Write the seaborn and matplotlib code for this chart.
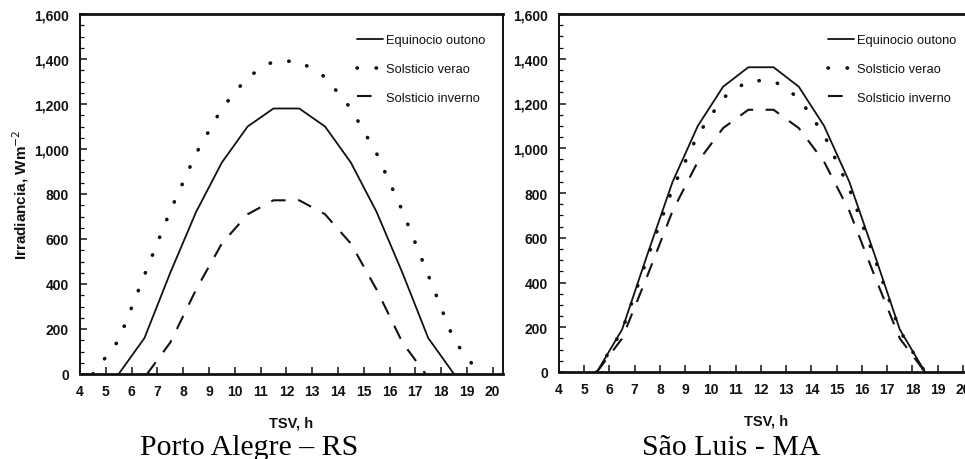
import numpy as np
import pandas as pd
import matplotlib
matplotlib.use("Agg")
import matplotlib.pyplot as plt
import matplotlib.ticker as mticker
import seaborn as sns

# ---------------- data ----------------
hours_half = [5.5, 6.5, 7.5, 8.5, 9.5, 10.5, 11.5, 12.5, 13.5, 14.5, 15.5, 16.5, 17.5, 18.5]

# Porto Alegre - RS
pa_eq_h = hours_half
pa_eq = [0, 160, 450, 720, 940, 1100, 1180, 1180, 1100, 940, 720, 450, 160, 0]
pa_ver_h = [4.5] + hours_half + [19.5]
pa_ver = [0, 150, 440, 725, 980, 1180, 1320, 1390, 1390, 1320, 1180, 980, 725, 440, 150, 0]
pa_inv_h = [6.6, 7.5, 8.5, 9.5, 10.5, 11.5, 12.5, 13.5, 14.5, 15.5, 16.5, 17.4]
pa_inv = [0, 140, 375, 580, 710, 772, 772, 710, 580, 375, 140, 0]

# Sao Luis - MA
sl_eq_h = hours_half
sl_eq = [0, 190, 525, 850, 1100, 1275, 1362, 1362, 1275, 1100, 850, 525, 190, 0]
sl_ver_h = hours_half
sl_ver = [0, 185, 510, 820, 1060, 1225, 1302, 1302, 1225, 1060, 820, 510, 185, 0]
sl_inv_h = hours_half
sl_inv = [0, 150, 430, 720, 940, 1090, 1172, 1172, 1090, 940, 720, 430, 150, 0]

series_names = ["Equinocio outono", "Solsticio verao", "Solsticio inverno"]
x_ticks = list(range(4, 21))
y_ticks = [0, 200, 400, 600, 800, 1000, 1200, 1400, 1600]
captions = ["Porto Alegre \u2013 RS", "S\u00e3o Luis - MA"]

# ---------------- style ----------------
sns.set_style("ticks")
plt.rcParams["font.family"] = ["Liberation Sans", "DejaVu Sans"]

fig = plt.figure(figsize=(9.65, 4.6), dpi=100)
ax1 = fig.add_axes([80 / 965, 85 / 460, 423 / 965, 360 / 460])
ax2 = fig.add_axes([559 / 965, 87 / 460, 414 / 965, 358 / 460])

ink = "#111111"
styles = [
    dict(linestyle="-", linewidth=1.3),
    dict(linestyle=(0, (0.1, 5.2)), linewidth=2.6, dash_capstyle="round"),
    dict(linestyle=(0, (7, 6.0)), linewidth=1.5),
]

def draw(ax, datasets, legend_x):
    for (h, v), name, st in zip(datasets, series_names, styles):
        df = pd.DataFrame({"TSV": h, "Irr": v})
        sns.lineplot(data=df, x="TSV", y="Irr", ax=ax, color=ink, label=name, **st)
    ax.set_xlim(4, 20.4)
    ax.set_ylim(0, 1600)
    ax.set_xticks(x_ticks)
    ax.set_yticks(y_ticks)
    ax.yaxis.set_minor_locator(mticker.MultipleLocator(50))
    ax.yaxis.set_major_formatter(mticker.FuncFormatter(lambda v, p: f"{int(v):,}"))
    ax.tick_params(axis="both", which="major", direction="in", length=5, width=1.1,
                   labelsize=10, colors=ink, pad=7)
    ax.tick_params(axis="y", which="major", pad=8)
    ax.tick_params(axis="y", which="minor", direction="in", length=3, width=0.9, color=ink)
    for lab in ax.get_xticklabels() + ax.get_yticklabels():
        lab.set_fontweight("bold")
    for side in ["left", "right", "top", "bottom"]:
        ax.spines[side].set_visible(True)
        ax.spines[side].set_color(ink)
        ax.spines[side].set_linewidth(1.4)
    ax.spines["bottom"].set_linewidth(2.0)
    ax.spines["top"].set_linewidth(2.0)
    ax.set_xlabel("TSV, h", fontsize=10.5, fontweight="bold", color=ink, labelpad=13)
    ax.set_ylabel("")
    leg = ax.legend(loc="upper left", bbox_to_anchor=(legend_x, 0.958), frameon=False,
                    fontsize=9.3, handlelength=2.0, handletextpad=0.25, labelspacing=1.3,
                    borderaxespad=0)
    for t in leg.get_texts():
        t.set_color(ink)

draw(ax1, [(pa_eq_h, pa_eq), (pa_ver_h, pa_ver), (pa_inv_h, pa_inv)], 0.643)
draw(ax2, [(sl_eq_h, sl_eq), (sl_ver_h, sl_ver), (sl_inv_h, sl_inv)], 0.637)

ax1.set_ylabel("Irradiancia, Wm$^{-2}$", fontsize=11, fontweight="bold", color=ink, labelpad=2)

fig.text(249 / 965, 1 - 448 / 460, captions[0], family=["Liberation Serif", "DejaVu Serif"],
         fontsize=21.5, ha="center", va="center", color="black")
fig.text(731 / 965, 1 - 448 / 460, captions[1], family=["Liberation Serif", "DejaVu Serif"],
         fontsize=21.5, ha="center", va="center", color="black")

fig.savefig("out.png", dpi=100, facecolor="white")
